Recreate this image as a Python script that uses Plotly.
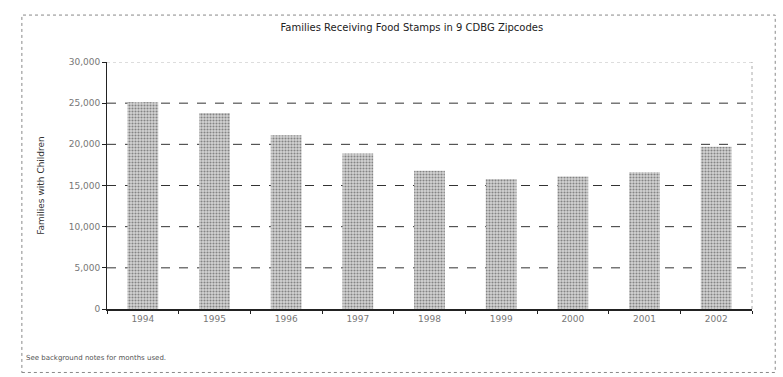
import plotly.graph_objects as go

years = ["1994", "1995", "1996", "1997", "1998", "1999", "2000", "2001", "2002"]
families = [25100, 23800, 21100, 18900, 16800, 15800, 16100, 16600, 19700]
y_ticks = [0, 5000, 10000, 15000, 20000, 25000, 30000]
y_tick_labels = ["0", "5,000", "10,000", "15,000", "20,000", "25,000", "30,000"]

fig = go.Figure()
fig.add_trace(go.Bar(
    x=years, y=families,
    marker=dict(color="#d4d4d4", line=dict(width=0),
                pattern=dict(shape=".", fgcolor="#333333", size=3, solidity=0.4)),
    width=0.43,
))

grid_shapes = []
for v in y_ticks[1:-1]:
    grid_shapes.append(dict(type="line", xref="paper", yref="y", x0=0, x1=1, y0=v, y1=v,
                            layer="below", line=dict(color="#333333", width=1, dash="dash")))
grid_shapes.append(dict(type="line", xref="paper", yref="y", x0=0, x1=1,
                        y0=y_ticks[-1], y1=y_ticks[-1], layer="below",
                        line=dict(color="#bbbbbb", width=1, dash="dot")))

fig.update_layout(
    width=783, height=377,
    margin=dict(l=107, r=31, t=62, b=68),
    paper_bgcolor="white", plot_bgcolor="white",
    showlegend=False,
    font=dict(family="DejaVu Sans", size=9, color="#666666"),
    title=dict(text="Families Receiving Food Stamps in 9 CDBG Zipcodes",
               x=0.526, xanchor="center", y=0.928, yanchor="middle",
               font=dict(size=10, color="#222222")),
    xaxis=dict(showline=True, linecolor="#222222", linewidth=2,
               ticks="outside", ticklen=3, tickcolor="#222222",
               tickson="boundaries", showgrid=False,
               tickfont=dict(size=9, color="#777777")),
    yaxis=dict(range=[0, 30000], tickvals=y_ticks, ticktext=y_tick_labels,
               showline=True, linecolor="#222222", linewidth=1,
               ticks="outside", ticklen=4, tickcolor="#222222",
               showgrid=False, zeroline=False,
               title=dict(text="Families with Children", standoff=22,
                          font=dict(size=9, color="#333333")),
               tickfont=dict(size=9, color="#777777")),
    shapes=grid_shapes + [
        dict(type="rect", xref="paper", yref="paper", x0=-0.132, x1=1.036,
             y0=-0.257, y1=1.19, line=dict(color="#888888", width=1, dash="dot")),
        dict(type="line", xref="paper", yref="paper", x0=1, x1=1, y0=0, y1=1,
             line=dict(color="#aaaaaa", width=1, dash="dot")),
    ],
    annotations=[
        dict(text="See background notes for months used.", xref="paper", yref="paper",
             x=-0.128, y=-0.2, xanchor="left", yanchor="middle", showarrow=False,
             font=dict(size=7, color="#555555")),
    ],
)

fig.write_html("out.html")
